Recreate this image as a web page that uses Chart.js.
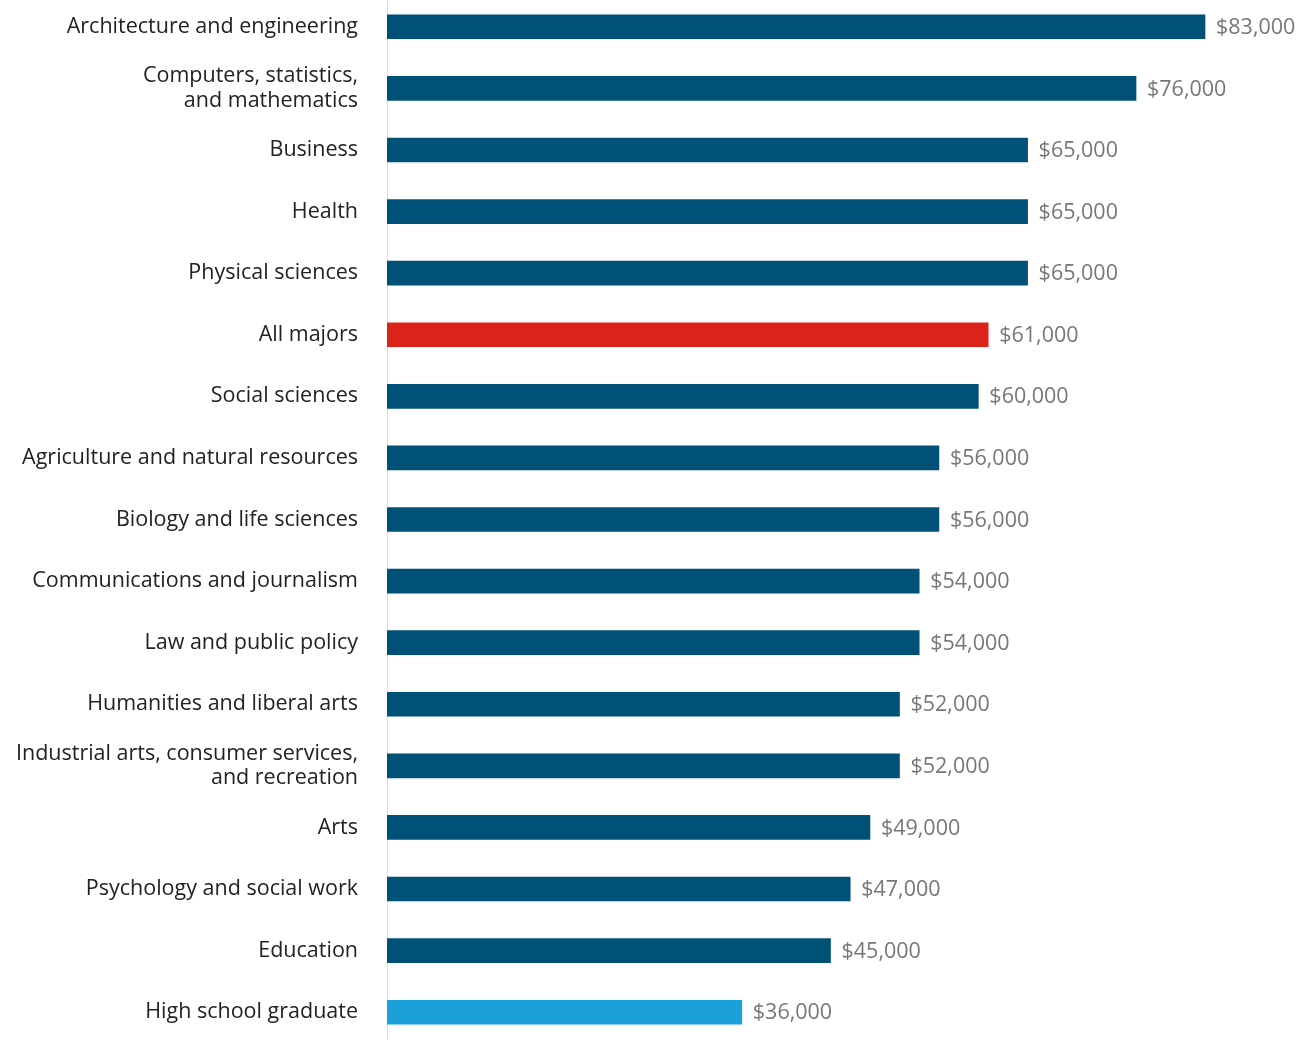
<!DOCTYPE html>
<html>
<head>
<meta charset="utf-8">
<script src="https://cdn.jsdelivr.net/npm/chart.js@4.4.1/dist/chart.umd.min.js"></script>
<style>
  html, body { margin: 0; padding: 0; background: #fff; overflow: hidden; }
  #wrap { position: relative; width: 1309px; height: 1047px; top: -4px; }
</style>
</head>
<body>
<div id="wrap"><canvas id="chart"></canvas></div>
<script>
// Median earnings by undergraduate major
const categories = [
  'Architecture and engineering',
  ['Computers, statistics,', 'and mathematics'],
  'Business',
  'Health',
  'Physical sciences',
  'All majors',
  'Social sciences',
  'Agriculture and natural resources',
  'Biology and life sciences',
  'Communications and journalism',
  'Law and public policy',
  'Humanities and liberal arts',
  ['Industrial arts, consumer services,', 'and recreation'],
  'Arts',
  'Psychology and social work',
  'Education',
  'High school graduate'
];
const earnings = [83000, 76000, 65000, 65000, 65000, 61000, 60000, 56000, 56000,
  54000, 54000, 52000, 52000, 49000, 47000, 45000, 36000];

const NAVY = '#005177';
const RED = '#dc231a';
const SKY = '#1a9fd8';

const barColors = categories.map(c => {
  if (c === 'All majors') return RED;
  if (c === 'High school graduate') return SKY;
  return NAVY;
});

const FONT = '"Open Sans", "Noto Sans", sans-serif';

// draw the dollar values at the end of each bar
const valueLabels = {
  id: 'valueLabels',
  afterDatasetsDraw(chart) {
    const { ctx } = chart;
    const meta = chart.getDatasetMeta(0);
    ctx.save();
    ctx.font = '21.5px ' + FONT;
    ctx.fillStyle = '#777777';
    ctx.textAlign = 'left';
    ctx.textBaseline = 'middle';
    meta.data.forEach((bar, i) => {
      ctx.fillText('$' + earnings[i].toLocaleString('en-US'), bar.x + 11, bar.y + 1);
    });
    ctx.restore();
  }
};

new Chart(document.getElementById('chart'), {
  type: 'bar',
  data: {
    labels: categories,
    datasets: [{
      data: earnings,
      backgroundColor: barColors,
      borderWidth: 0,
      barThickness: 24
    }]
  },
  options: {
    indexAxis: 'y',
    responsive: true,
    maintainAspectRatio: false,
    animation: false,
    layout: { padding: { top: 0, right: 35, bottom: 0, left: 0 } },
    plugins: {
      legend: { display: false },
      tooltip: { enabled: false }
    },
    scales: {
      x: {
        display: false,
        min: 0,
        max: 90000
      },
      y: {
        afterFit(scale) {
          scale.width = 387;
          scale.paddingTop = 0;
          scale.paddingBottom = 0;
        },
        grid: { display: false, drawTicks: false },
        border: { display: true, color: '#dddddd', width: 1 },
        ticks: {
          color: '#222222',
          padding: 29,
          font: { family: FONT, size: 21.5, lineHeight: 1.16 }
        }
      }
    }
  },
  plugins: [valueLabels]
});
</script>
</body>
</html>
